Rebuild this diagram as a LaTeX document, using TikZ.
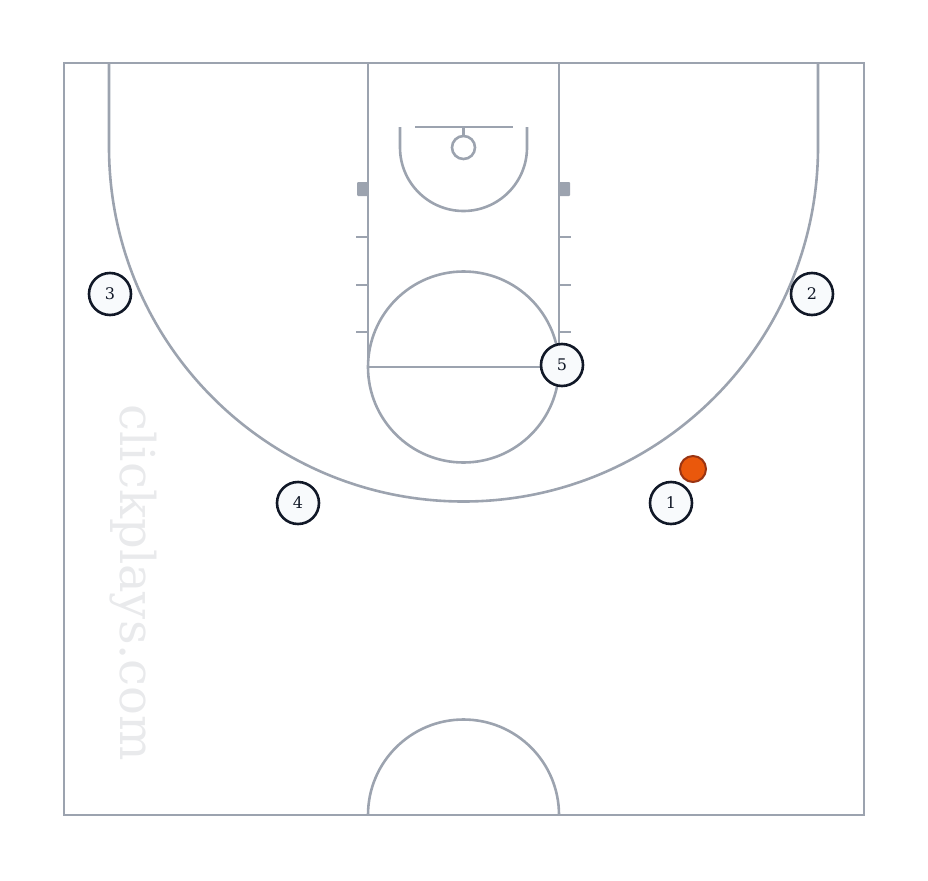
\documentclass[tikz,border=0pt]{standalone}
\usepackage{fontspec}
\newfontfamily\courtfont{DejaVu Serif}
\usetikzlibrary{calc}

\definecolor{courtgray}{HTML}{9CA3AF}
\definecolor{playerdark}{HTML}{111827}
\definecolor{playerfill}{HTML}{F8FAFC}
\definecolor{ballorange}{HTML}{EA580C}
\definecolor{ballrim}{HTML}{9A3412}
\definecolor{markgray}{HTML}{E9EAEC}

\tikzset{
  court/.style={courtgray, line width=2.6pt},
  player/.style={circle, draw=playerdark, fill=playerfill, line width=2.6pt, minimum size=42pt, inner sep=0pt, text=playerdark, font=\courtfont\fontsize{16}{16}\selectfont},
  ball/.style={circle, draw=ballrim, fill=ballorange, line width=2pt, minimum size=26pt, inner sep=0pt}
}

\begin{document}
\begin{tikzpicture} [x=1pt, y=-1pt]
\useasboundingbox (0,0) rectangle (928,880);

% watermark
\node[markgray, rotate=-90, font=\courtfont\fontsize{48}{48}\selectfont] (mark) at (133,583) {clickplays.com};

% court
\draw[court] (64,63) rectangle (864,815);
\draw[court] (368,63) rectangle (559,367);
\draw[court] (463.5,367) circle (95.5);
\draw[court] (368,815) arc[start angle=180, end angle=360, radius=95.5];

% three point line
\draw[court] (109,63) -- (109,147) arc[start angle=180, end angle=0, radius=354.5] -- (818,63);

% basket
\draw[court] (415,127) -- (513,127);
\draw[court] (463.5,127) -- (463.5,136);
\draw[court] (463.5,147.5) circle (11.5);
\draw[court] (400,127) -- (400,147.5) arc[start angle=180, end angle=0, radius=63.5] -- (527,127);

% blocks and hash marks
\fill[courtgray, rounded corners=1pt] (357,182) rectangle (368,196);
\fill[courtgray, rounded corners=1pt] (559,182) rectangle (570,196);
\foreach \y in {237,285,332} {
  \draw[court] (356,\y) -- (368,\y);
  \draw[court] (559,\y) -- (571,\y);
}

% players
\node[player] (p3) at (110,294) {3};
\node[player] (p2) at (812,294) {2};
\node[player] (p5) at (562,365) {5};
\node[player] (p4) at (298,503) {4};
\node[player] (p1) at (671,503) {1};

% ball
\node[ball] (ball) at (693,469) {};

\end{tikzpicture}
\end{document}
